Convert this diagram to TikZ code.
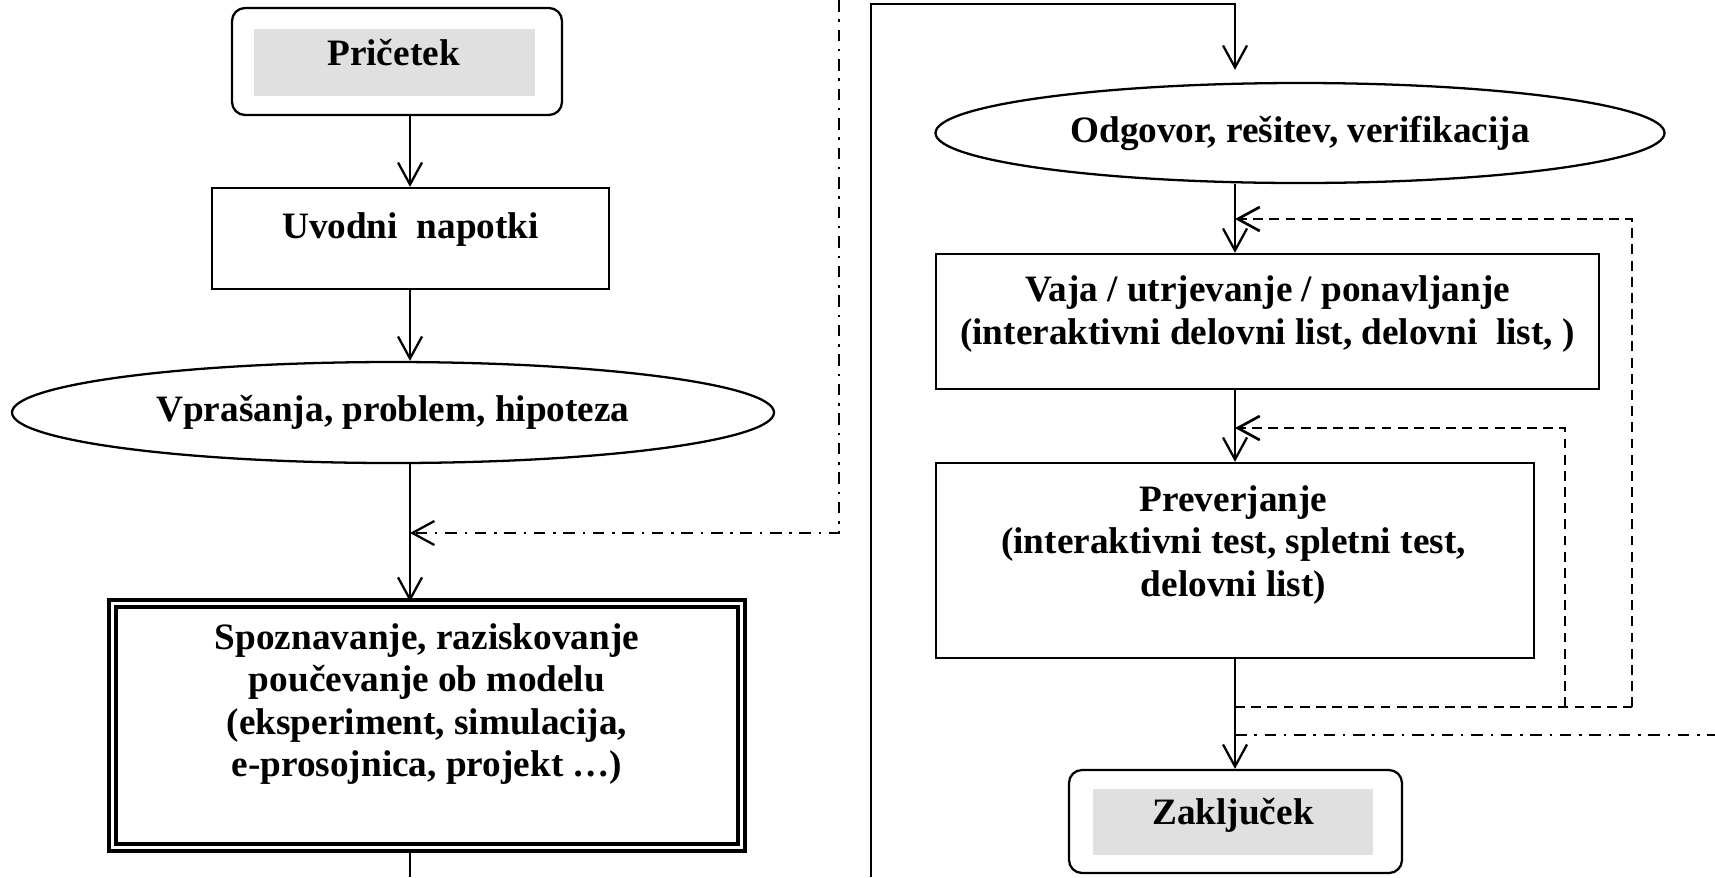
\documentclass[tikz,border=0pt]{standalone}
\usepackage{fontspec}
\setmainfont{Liberation Serif}
\usetikzlibrary{arrows.meta, shapes.geometric}

\definecolor{label fill}{RGB}{224,224,224}

\begin{document}
\begin{tikzpicture}[line width=.65pt, >={Straight Barb[length=2.2mm, width=2.4mm]},
	font=\bfseries\fontsize{10.6}{12}\selectfont,
	box/.style={draw, rectangle, inner sep=0},
	end box/.style={draw, rectangle, rounded corners=.13cm, inner sep=0},
	grey label/.style={fill=label fill, minimum width=2.8cm, minimum height=.67cm, inner sep=0},
	top text/.style={inner sep=0, text height=.3cm, text depth=.3cm},
	oval/.style={draw, ellipse, inner sep=0},
	loop line/.style={line width=.75pt, dash pattern=on 2.8pt off 1.8pt},
	jump line/.style={dash pattern=on 3.3pt off 2.2pt on .7pt off 2.2pt}]
	\useasboundingbox (0,0) rectangle (17.15,-8.77);

	% left column
	\coordinate (left spine) at (4.10, 0);
	\coordinate (left end) at (4.10, -8.77);

	\node (prc) at (3.97, -.615) [end box, minimum width=3.3cm, minimum height=1.07cm] {};
	\node (prc fill) at (3.945, -.625) [grey label, minimum width=2.81cm] {};
	\node (prc text) at (3.935, -.65) [top text] {Pričetek};

	\node (uvd) at (4.105, -2.385) [box, minimum width=3.97cm, minimum height=1.01cm, text height=.3cm, text depth=.3cm] {Uvodni~ napotki};

	\node (vpr) at (3.93, -4.125) [oval, minimum width=7.62cm, minimum height=1.01cm] {Vprašanja, problem, hipoteza};

	\node (spo) at (4.27, -7.255) [box, double, double distance=1.1pt, line width=1pt, minimum width=6.29cm, minimum height=2.44cm] {};
	\node (spo text) at (4.27, -7.04) [align=center] {Spoznavanje, raziskovanje\\ poučevanje ob modelu\\ (eksperiment, simulacija,\\ e-prosojnica, projekt …)};

	\draw [->] (prc.south -| left spine) -- (uvd.north -| left spine);
	\draw [->] (uvd.south -| left spine) -- (vpr.north -| left spine);
	\draw [->] (vpr.south -| left spine) -- (spo.north -| left spine);
	\draw (spo.south -| left spine) -- (left end);

	% jump back into the left column
	\coordinate (jump top) at (8.39, 0);
	\coordinate (jump corner) at (8.39, -5.33);
	\draw [jump line, ->] (jump top) -- (jump corner) -- (jump corner -| left spine);

	% right column
	\coordinate (frame end) at (8.71, -8.77);
	\coordinate (frame corner) at (8.71, -.04);
	\coordinate (right spine) at (12.35, -.04);

	\node (odg) at (13.00, -1.33) [oval, minimum width=7.29cm, minimum height=1cm] {Odgovor, rešitev, verifikacija};

	\node (vaj) at (12.675, -3.215) [box, minimum width=6.63cm, minimum height=1.35cm] {};
	\node (vaj text) at (12.675, -3.14) [align=center] {Vaja / utrjevanje / ponavljanje\\ (interaktivni delovni list, delovni~ list, )};

	\node (pre) at (12.35, -5.605) [box, minimum width=5.98cm, minimum height=1.95cm] {};
	\node (pre text) at (12.335, -5.45) [align=center] {Preverjanje\\ (interaktivni test, spletni test,\\ delovni list)};

	\node (zak) at (12.355, -8.215) [end box, minimum width=3.33cm, minimum height=1.03cm] {};
	\node (zak fill) at (12.33, -8.22) [grey label, minimum height=.66cm] {};
	\node (zak text) at (12.33, -8.245) [top text] {Zaključek};

	\draw [->, shorten >=.12cm] (frame end) -- (frame corner) -- (right spine) -- (odg.north -| right spine);
	\draw [->] (odg.south -| right spine) -- (vaj.north -| right spine);
	\draw [->] (vaj.south -| right spine) -- (pre.north -| right spine);
	\draw [->] (pre.south -| right spine) -- (zak.north -| right spine);

	% repeat loops
	\coordinate (outer loop) at (16.32, -7.07);
	\coordinate (inner loop) at (15.65, -7.07);
	\begin{scope}[loop line]
		\draw (right spine |- outer loop) -- (outer loop);
		\draw [->] (outer loop) |- (right spine |- 0, -2.19);
		\draw [->] (inner loop) |- (right spine |- 0, -4.28);
	\end{scope}

	% jump out to the next part
	\coordinate (jump out) at (17.15, -7.35);
	\draw [jump line] (right spine |- jump out) -- (jump out);
\end{tikzpicture}
\end{document}
